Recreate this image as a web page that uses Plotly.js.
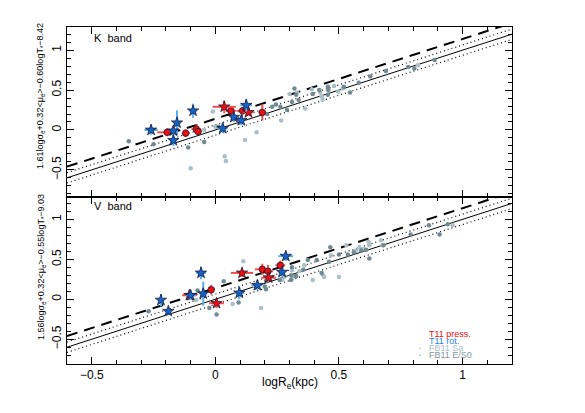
<!DOCTYPE html>
<html><head><meta charset="utf-8">
<script src="https://cdn.plot.ly/plotly-3.0.1.min.js"></script>
<style>html,body{margin:0;padding:0;background:#fff}#c{width:585px;height:413px}</style>
</head><body><div id="c"></div>
<script>
// ---- fit relations (slope, intercept) ----
const lineX = [-0.6, 1.2];
const fitSlope = 1.0;
const fitIntercept = 0.0;
const fitScatter = 0.065;
const virialIntercept = 0.14;

// ---- K band (top panel) ----
const kRotX = [-0.26, -0.17, -0.17, -0.155, -0.09, 0.03, 0.075, 0.105, 0.125];
const kRotY = [0.0, -0.01, -0.13, 0.09, 0.24, 0.02, 0.16, 0.12, 0.31];
const kRotXerr = [0.027, 0.015, 0.015, 0.016, 0.015, 0.02, 0.015, 0.015, 0.024];
const kRotYerr = [0.06, 0.05, 0.07, 0.155, 0.09, 0.06, 0.06, 0.06, 0.08];

const kPressX = [-0.195, -0.12, -0.077, -0.07, 0.063, 0.11, 0.19];
const kPressY = [-0.03, -0.04, 0.01, -0.02, 0.24, 0.24, 0.22];
const kPressXerr = [0.04, 0.015, 0.02, 0.015, 0.02, 0.025, 0.015];
const kPressYerr = [0.05, 0.05, 0.06, 0.04, 0.05, 0.05, 0.1];
const kPressStarX = [0.036, 0.134];
const kPressStarY = [0.29, 0.22];
const kPressStarXerr = [0.047, 0.02];
const kPressStarYerr = [0.08, 0.04];

const kSaX = [-0.10, -0.01, -0.045, 0.0, 0.038, 0.043, 0.12, 0.167, 0.266, 0.30, 0.363, 0.39, 0.424, 0.43, 0.434, 0.48, 0.498, 0.515, 0.82, 0.33];
const kSaY = [-0.48, 0.23, 0.0, 0.04, -0.33, -0.39, -0.125, -0.03, 0.12, 0.45, 0.27, 0.51, 0.47, 0.42, 0.38, 0.55, 0.48, 0.52, 0.81, 0.47];
const kES0X = [-0.35, -0.25, -0.11, -0.045, 0.013, 0.21, 0.23, 0.245, 0.263, 0.29, 0.31, 0.32, 0.327, 0.337, 0.394, 0.42, 0.455, 0.457, 0.455, 0.52, 0.545, 0.58, 0.627, 0.69, 0.78, 0.805, 0.887];
const kES0Y = [-0.14, -0.18, -0.22, -0.15, 0.04, 0.20, 0.29, 0.32, 0.29, 0.25, 0.35, 0.52, 0.44, 0.375, 0.45, 0.50, 0.54, 0.50, 0.44, 0.54, 0.47, 0.59, 0.67, 0.74, 0.79, 0.77, 0.875];

// ---- V band (bottom panel) ----
const vRotX = [-0.22, -0.19, -0.10, -0.058, -0.049, 0.097, 0.17, 0.27, 0.285];
const vRotY = [-0.01, -0.15, 0.05, 0.33, 0.07, 0.08, 0.175, 0.34, 0.54];
const vRotXerr = [0.01, 0.01, 0.02, 0.02, 0.015, 0.02, 0.02, 0.015, 0.03];
const vRotYerr = [0.075, 0.04, 0.06, 0.08, 0.15, 0.08, 0.06, 0.06, 0.06];

const vPressX = [-0.017, 0.19, 0.213, 0.263];
const vPressY = [0.12, 0.375, 0.35, 0.425];
const vPressXerr = [0.01, 0.03, 0.02, 0.02];
const vPressYerr = [0.06, 0.07, 0.08, 0.06];
const vPressStarX = [-0.105, 0.005, 0.108, 0.216];
const vPressStarY = [0.05, -0.05, 0.33, 0.27];
const vPressStarXerr = [0.03, 0.03, 0.045, 0.03];
const vPressStarYerr = [0.06, 0.06, 0.05, 0.04];

const vSaX = [0.113, -0.078, 0.07, 0.185, 0.154, 0.31, 0.27, 0.28, 0.31, 0.34, 0.36, 0.394, 0.434, 0.44, 0.468, 0.5, 0.53, 0.57, 0.583, 0.60, 0.62, 0.623, 0.67, 0.677, 0.96];
const vSaY = [0.475, -0.01, -0.06, -0.11, 0.175, 0.36, 0.245, 0.28, 0.26, 0.35, 0.425, 0.24, 0.31, 0.28, 0.55, 0.28, 0.675, 0.61, 0.65, 0.63, 0.72, 0.675, 0.74, 0.675, 0.925];
const vES0X = [-0.27, 0.034, -0.072, -0.024, 0.005, 0.094, 0.165, 0.20, 0.205, 0.205, 0.306, 0.327, 0.306, 0.26, 0.324, 0.356, 0.31, 0.374, 0.41, 0.43, 0.46, 0.465, 0.50, 0.536, 0.56, 0.59, 0.61, 0.623, 0.68, 0.79, 0.864, 0.907, 0.94];
const vES0Y = [-0.15, 0.225, 0.11, -0.11, -0.19, -0.04, 0.146, 0.16, 0.125, 0.23, 0.30, 0.29, 0.24, 0.24, 0.29, 0.37, 0.40, 0.49, 0.49, 0.33, 0.47, 0.65, 0.56, 0.56, 0.59, 0.61, 0.62, 0.51, 0.675, 0.81, 0.925, 0.81, 0.94];

// ---- legend / labels ----
const legendLabels = ['T11 press.', 'T11 rot.', 'FB11 Sa', 'FB11 E/S0'];
const panelLabels = ['K  band', 'V  band'];
const yTitles = ['1.61logσ<sub>e</sub>+0.32&lt;μ<sub>e</sub>&gt;−0.60logT<sub>*</sub>−8.42',
                 '1.56logσ<sub>e</sub>+0.32&lt;μ<sub>e</sub>&gt;−0.55logT<sub>*</sub>−9.03'];

const RED = '#f00d0d', REDERR = '#f25050';
const BLUE = '#1565c8', BLUEERR = '#5aaef0';
const SA = '#a9c0c8', ES0 = '#6f8a93';

const line = (b) => lineX.map(x => fitSlope * x + b);
function relLines(xa, ya) {
  return [
    {x: lineX, y: line(fitIntercept), xaxis: xa, yaxis: ya, mode: 'lines', line: {color: '#000', width: 1}, hoverinfo: 'skip'},
    {x: lineX, y: line(fitIntercept + fitScatter), xaxis: xa, yaxis: ya, mode: 'lines', line: {color: '#000', width: 1.2, dash: '1px,3px'}, hoverinfo: 'skip'},
    {x: lineX, y: line(fitIntercept - fitScatter), xaxis: xa, yaxis: ya, mode: 'lines', line: {color: '#000', width: 1.2, dash: '1px,3px'}, hoverinfo: 'skip'},
    {x: lineX, y: line(virialIntercept), xaxis: xa, yaxis: ya, mode: 'lines', line: {color: '#000', width: 2, dash: '11px,7px'}, hoverinfo: 'skip'}
  ];
}
function grey(x, y, c, xa, ya) {
  return {x: x, y: y, xaxis: xa, yaxis: ya, mode: 'markers', marker: {color: c, size: 4.5, symbol: 'circle'}};
}
function errPts(x, y, xe, ye, col, ecol, sym, sz, xa, ya) {
  return {x: x, y: y, xaxis: xa, yaxis: ya, mode: 'markers',
    error_x: {type: 'data', array: xe, color: ecol, thickness: 2, width: 0},
    error_y: {type: 'data', array: ye, color: ecol, thickness: 2, width: 0},
    marker: {color: col, size: sz, symbol: sym, line: {color: '#1a1a3a', width: 0.8}}};
}

const data = [].concat(
  relLines('x2', 'y2'),
  [grey(kSaX, kSaY, SA, 'x2', 'y2'), grey(kES0X, kES0Y, ES0, 'x2', 'y2'),
   errPts(kPressX, kPressY, kPressXerr, kPressYerr, RED, REDERR, 'circle', 6.5, 'x2', 'y2'),
   errPts(kPressStarX, kPressStarY, kPressStarXerr, kPressStarYerr, RED, REDERR, 'star', 8.5, 'x2', 'y2'),
   errPts(kRotX, kRotY, kRotXerr, kRotYerr, BLUE, BLUEERR, 'star', 8.5, 'x2', 'y2')],
  relLines('x', 'y'),
  [grey(vSaX, vSaY, SA, 'x', 'y'), grey(vES0X, vES0Y, ES0, 'x', 'y'),
   errPts(vPressX, vPressY, vPressXerr, vPressYerr, RED, REDERR, 'circle', 6.5, 'x', 'y'),
   errPts(vPressStarX, vPressStarY, vPressStarXerr, vPressStarYerr, RED, REDERR, 'star', 8.5, 'x', 'y'),
   errPts(vRotX, vRotY, vRotXerr, vRotYerr, BLUE, BLUEERR, 'star', 8.5, 'x', 'y')]
);

const FONT = 'Liberation Sans, Arial, sans-serif';
const xbase = {range: [-0.6, 1.2], showgrid: false, zeroline: false, showline: true, linecolor: '#000', linewidth: 1,
  mirror: 'ticks', ticks: 'inside', ticklen: 7, tickcolor: '#000', dtick: 0.5, tick0: 0,
  minor: {dtick: 0.1, ticklen: 4, ticks: 'inside', tickcolor: '#000'},
  tickfont: {family: FONT, size: 12, color: '#000'}};
const ybase = {showgrid: false, zeroline: false, showline: true, linecolor: '#000', linewidth: 1,
  mirror: 'ticks', ticks: 'inside', ticklen: 7, tickcolor: '#000', dtick: 0.5, tick0: 0, tickangle: -90,
  minor: {dtick: 0.1, ticklen: 4, ticks: 'inside', tickcolor: '#000'},
  tickfont: {family: FONT, size: 12, color: '#000'}};

const split = (364 - 197) / 337;
const legY = [333.5, 340.5, 347.5, 354.5].map(p => (364 - p) / 337);
const legCol = [RED, '#1e7fe6', SA, '#8296a0'];
const annotations = [];
legendLabels.forEach((t, i) => {
  annotations.push({text: t, x: (427 - 67) / 445, y: legY[i], xref: 'paper', yref: 'paper', xanchor: 'left', yanchor: 'middle',
    showarrow: false, font: {family: FONT, size: 9, color: legCol[i]}});
});
[2, 3].forEach(i => annotations.push({text: '•', x: (420 - 67) / 445, y: legY[i], xref: 'paper', yref: 'paper',
  xanchor: 'center', yanchor: 'middle', showarrow: false, font: {family: FONT, size: 5, color: legCol[i]}}));
annotations.push({text: panelLabels[0], x: (92 - 67) / 445, y: (364 - 38) / 337, xref: 'paper', yref: 'paper', xanchor: 'left', yanchor: 'middle', showarrow: false, font: {family: FONT, size: 11, color: '#000'}});
annotations.push({text: panelLabels[1], x: (92 - 67) / 445, y: (364 - 206) / 337, xref: 'paper', yref: 'paper', xanchor: 'left', yanchor: 'middle', showarrow: false, font: {family: FONT, size: 11, color: '#000'}});
annotations.push({text: yTitles[0], textangle: -90, x: (41 - 67) / 445, y: (364 - 96) / 337, xref: 'paper', yref: 'paper', xanchor: 'center', yanchor: 'middle', showarrow: false, font: {family: FONT, size: 9, color: '#000'}});
annotations.push({text: yTitles[1], textangle: -90, x: (41 - 67) / 445, y: (364 - 267) / 337, xref: 'paper', yref: 'paper', xanchor: 'center', yanchor: 'middle', showarrow: false, font: {family: FONT, size: 9, color: '#000'}});
annotations.push({text: 'logR<sub>e</sub>(kpc)', x: 0.5, y: (364 - 383) / 337, xref: 'paper', yref: 'paper', xanchor: 'center', yanchor: 'middle', showarrow: false, font: {family: FONT, size: 12, color: '#000'}});

const layout = {
  width: 585, height: 413, showlegend: false,
  paper_bgcolor: '#fff', plot_bgcolor: '#fff',
  margin: {l: 67, r: 73, t: 27, b: 49},
  xaxis: Object.assign({}, xbase, {anchor: 'y', domain: [0, 1]}),
  yaxis: Object.assign({}, ybase, {range: [-0.81, 1.28], domain: [0, split], anchor: 'x'}),
  xaxis2: Object.assign({}, xbase, {anchor: 'y2', domain: [0, 1], matches: 'x', showticklabels: false}),
  yaxis2: Object.assign({}, ybase, {range: [-0.84, 1.29], domain: [split, 1], anchor: 'x2'}),
  annotations: annotations
};
Plotly.newPlot('c', data, layout, {staticPlot: true});
</script></body></html>
